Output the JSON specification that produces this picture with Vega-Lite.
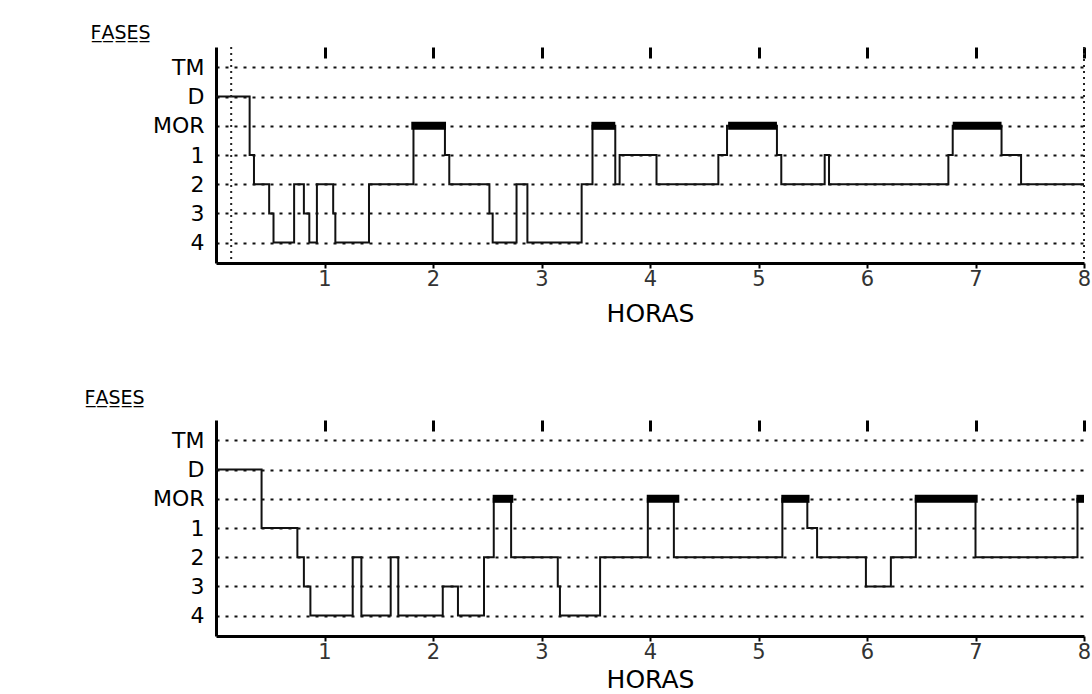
{
  "$schema": "https://vega.github.io/schema/vega-lite/v6.json",
  "background": "white",
  "padding": {"left": 84, "top": 23, "right": 0, "bottom": 0},
  "spacing": 62,
  "config": {
    "font": "DejaVu Sans",
    "view": {"stroke": null},
    "axis": {"labelFont": "DejaVu Sans", "titleFont": "DejaVu Sans"}
  },
  "datasets": {
    "noche1": [
      {"hora": 0, "fase": "D"}, {"hora": 0.31, "fase": "1"}, {"hora": 0.35, "fase": "2"},
      {"hora": 0.49, "fase": "3"}, {"hora": 0.53, "fase": "4"}, {"hora": 0.72, "fase": "2"},
      {"hora": 0.81, "fase": "3"}, {"hora": 0.86, "fase": "4"}, {"hora": 0.93, "fase": "2"},
      {"hora": 1.08, "fase": "3"}, {"hora": 1.1, "fase": "4"}, {"hora": 1.41, "fase": "2"},
      {"hora": 1.82, "fase": "MOR"}, {"hora": 2.11, "fase": "1"}, {"hora": 2.15, "fase": "2"},
      {"hora": 2.52, "fase": "3"}, {"hora": 2.55, "fase": "4"}, {"hora": 2.77, "fase": "2"},
      {"hora": 2.87, "fase": "4"}, {"hora": 3.37, "fase": "2"}, {"hora": 3.47, "fase": "MOR"},
      {"hora": 3.68, "fase": "2"}, {"hora": 3.72, "fase": "1"}, {"hora": 4.06, "fase": "2"},
      {"hora": 4.63, "fase": "1"}, {"hora": 4.71, "fase": "MOR"}, {"hora": 5.17, "fase": "1"},
      {"hora": 5.21, "fase": "2"}, {"hora": 5.61, "fase": "1"}, {"hora": 5.65, "fase": "2"},
      {"hora": 6.75, "fase": "1"}, {"hora": 6.79, "fase": "MOR"}, {"hora": 7.24, "fase": "1"},
      {"hora": 7.42, "fase": "2"}, {"hora": 8, "fase": "2"}
    ],
    "mor1": [
      {"inicio": 1.8, "fin": 2.12, "fase": "MOR"},
      {"inicio": 3.46, "fin": 3.68, "fase": "MOR"},
      {"inicio": 4.72, "fin": 5.17, "fase": "MOR"},
      {"inicio": 6.79, "fin": 7.24, "fase": "MOR"}
    ],
    "marcas1": [{"hora": 0.14}, {"hora": 8}],
    "noche2": [
      {"hora": 0, "fase": "D"}, {"hora": 0.42, "fase": "1"}, {"hora": 0.75, "fase": "2"},
      {"hora": 0.81, "fase": "3"}, {"hora": 0.87, "fase": "4"}, {"hora": 1.26, "fase": "2"},
      {"hora": 1.34, "fase": "4"}, {"hora": 1.61, "fase": "2"}, {"hora": 1.68, "fase": "4"},
      {"hora": 2.09, "fase": "3"}, {"hora": 2.23, "fase": "4"}, {"hora": 2.47, "fase": "2"},
      {"hora": 2.56, "fase": "MOR"}, {"hora": 2.72, "fase": "2"}, {"hora": 3.15, "fase": "3"},
      {"hora": 3.17, "fase": "4"}, {"hora": 3.54, "fase": "2"}, {"hora": 3.98, "fase": "MOR"},
      {"hora": 4.22, "fase": "2"}, {"hora": 5.22, "fase": "MOR"}, {"hora": 5.45, "fase": "1"},
      {"hora": 5.54, "fase": "2"}, {"hora": 5.99, "fase": "3"}, {"hora": 6.22, "fase": "2"},
      {"hora": 6.45, "fase": "MOR"}, {"hora": 7.0, "fase": "2"}, {"hora": 7.94, "fase": "MOR"},
      {"hora": 8, "fase": "MOR"}
    ],
    "mor2": [
      {"inicio": 2.55, "fin": 2.74, "fase": "MOR"},
      {"inicio": 3.97, "fin": 4.27, "fase": "MOR"},
      {"inicio": 5.21, "fin": 5.47, "fase": "MOR"},
      {"inicio": 6.44, "fin": 7.02, "fase": "MOR"},
      {"inicio": 7.93, "fin": 8, "fase": "MOR"}
    ]
  },
  "vconcat": [
    {
      "width": 868,
      "height": 216,
      "resolve": {"axis": {"x": "independent"}},
      "layer": [
        {
          "data": {"name": "noche1"},
          "mark": {"type": "line", "interpolate": "step-after", "color": "#111", "strokeWidth": 2},
          "encoding": {
            "x": {
              "field": "hora", "type": "quantitative",
              "scale": {"domain": [0, 8], "nice": false, "zero": true},
              "axis": {
                "values": [1, 2, 3, 4, 5, 6, 7, 8], "grid": false,
                "domainColor": "black", "domainWidth": 3,
                "tickColor": "black", "tickWidth": 2, "tickSize": 5,
                "labelFontSize": 21, "labelColor": "#333", "labelPadding": 0, "labelFlush": false,
                "title": "HORAS", "titleFontSize": 25, "titleFontWeight": "normal", "titleColor": "black", "titlePadding": 12
              }
            },
            "y": {
              "field": "fase", "type": "ordinal",
              "scale": {"type": "point", "domain": ["TM", "D", "MOR", "1", "2", "3", "4"], "padding": 0.7},
              "axis": {
                "domainColor": "black", "domainWidth": 3, "ticks": false,
                "labelFontSize": 22, "labelColor": "black", "labelPadding": 12,
                "grid": true, "gridColor": "#111", "gridDash": [3, 6], "gridWidth": 2,
                "title": "F̲A̲S̲E̲S̲", "titleAngle": 0, "titleAlign": "left", "titleBaseline": "alphabetic",
                "titleX": -126, "titleY": -9, "titleFontSize": 19, "titleFontWeight": "normal", "titleColor": "black"
              }
            },
            "order": {"field": "hora", "type": "quantitative"}
          }
        },
        {
          "data": {"name": "mor1"},
          "mark": {"type": "rule", "color": "black", "strokeWidth": 8, "strokeCap": "butt"},
          "encoding": {
            "x": {"field": "inicio", "type": "quantitative", "axis": null},
            "x2": {"field": "fin"},
            "y": {"field": "fase", "type": "ordinal"}
          }
        },
        {
          "data": {"name": "marcas1"},
          "mark": {"type": "rule", "color": "#222", "strokeWidth": 2, "strokeDash": [2, 4]},
          "encoding": {
            "x": {
              "field": "hora", "type": "quantitative",
              "axis": {
                "orient": "top", "values": [1, 2, 3, 4, 5, 6, 7, 8], "labels": false, "domain": false, "grid": false,
                "ticks": true, "tickSize": 11, "tickWidth": 3, "tickColor": "black", "offset": -11, "title": null
              }
            }
          }
        }
      ]
    },
    {
      "width": 868,
      "height": 216,
      "resolve": {"axis": {"x": "independent"}},
      "layer": [
        {
          "data": {"name": "noche2"},
          "mark": {"type": "line", "interpolate": "step-after", "color": "#111", "strokeWidth": 2},
          "encoding": {
            "x": {
              "field": "hora", "type": "quantitative",
              "scale": {"domain": [0, 8], "nice": false, "zero": true},
              "axis": {
                "values": [1, 2, 3, 4, 5, 6, 7, 8], "grid": false,
                "domainColor": "black", "domainWidth": 3,
                "tickColor": "black", "tickWidth": 2, "tickSize": 5,
                "labelFontSize": 21, "labelColor": "#333", "labelPadding": 0, "labelFlush": false,
                "title": "HORAS", "titleFontSize": 25, "titleFontWeight": "normal", "titleColor": "black", "titlePadding": 5
              }
            },
            "y": {
              "field": "fase", "type": "ordinal",
              "scale": {"type": "point", "domain": ["TM", "D", "MOR", "1", "2", "3", "4"], "padding": 0.7},
              "axis": {
                "domainColor": "black", "domainWidth": 3, "ticks": false,
                "labelFontSize": 22, "labelColor": "black", "labelPadding": 12,
                "grid": true, "gridColor": "#111", "gridDash": [3, 6], "gridWidth": 2,
                "title": "F̲A̲S̲E̲S̲", "titleAngle": 0, "titleAlign": "left", "titleBaseline": "alphabetic",
                "titleX": -132, "titleY": -17, "titleFontSize": 19, "titleFontWeight": "normal", "titleColor": "black"
              }
            },
            "order": {"field": "hora", "type": "quantitative"}
          }
        },
        {
          "data": {"name": "mor2"},
          "mark": {"type": "rule", "color": "black", "strokeWidth": 8, "strokeCap": "butt"},
          "encoding": {
            "x": {
              "field": "inicio", "type": "quantitative",
              "axis": {
                "orient": "top", "values": [1, 2, 3, 4, 5, 6, 7, 8], "labels": false, "domain": false, "grid": false,
                "ticks": true, "tickSize": 11, "tickWidth": 3, "tickColor": "black", "offset": -11, "title": null
              }
            },
            "x2": {"field": "fin"},
            "y": {"field": "fase", "type": "ordinal"}
          }
        }
      ]
    }
  ]
}
